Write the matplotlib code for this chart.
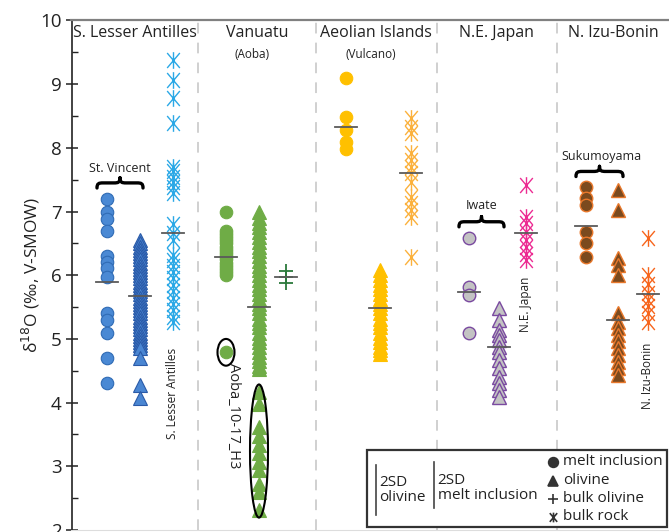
import matplotlib
matplotlib.use('Agg')
from matplotlib import pyplot as plt
from matplotlib.path import Path
from matplotlib.patches import Ellipse, PathPatch, Rectangle
from matplotlib.lines import Line2D

plt.rcParams['font.family'] = ['Open Sans', 'DejaVu Sans']

W, H = 669, 532

regions = ['S. Lesser Antilles', 'Vanuatu', 'Aeolian Islands', 'N.E. Japan', 'N. Izu-Bonin']
region_x = [135, 257, 376, 496, 613]
dividers = [198, 316, 437, 557]

# columns: melt inclusion, olivine, bulk
lesser_x = [107, 140, 173]
lesser_mi = [7.19, 7.0, 6.89, 6.7, 6.3, 6.21, 6.11, 5.98, 5.4, 5.3, 5.1, 4.7, 4.31]
lesser_ol = [6.55, 6.5, 6.45, 6.4, 6.35, 6.3, 6.25, 6.2, 6.15, 6.1, 6.05, 6.0, 5.95, 5.9,
             5.85, 5.8, 5.75, 5.7, 5.65, 5.6, 5.55, 5.5, 5.45, 5.4, 5.35, 5.3, 5.25, 5.2,
             5.15, 5.1, 5.05, 5.0, 4.95, 4.9, 4.85, 4.7, 4.28, 4.07]
lesser_br = [9.38, 9.07, 8.79, 8.39, 7.7, 7.63, 7.55, 7.47, 7.39, 7.29, 6.81, 6.66, 6.55,
             6.32, 6.24, 6.15, 6.05, 5.95, 5.85, 5.75, 5.65, 5.55, 5.45, 5.35, 5.27]
lesser_mean = [5.9, 5.67, 6.67]

vanuatu_x = [226, 259, 286]
vanuatu_mi = [7.0, 6.7, 6.65, 6.6, 6.55, 6.5, 6.45, 6.4, 6.35, 6.3, 6.25, 6.2, 6.15, 6.1,
              6.05, 6.0, 4.8]
vanuatu_ol = [7.0, 6.9, 6.82, 6.75, 6.68, 6.6, 6.52, 6.45, 6.38, 6.3, 6.22, 6.15, 6.08,
              6.0, 5.92, 5.85, 5.78, 5.7, 5.62, 5.55, 5.48, 5.4, 5.32, 5.25, 5.18, 5.1,
              5.02, 4.95, 4.88, 4.8, 4.72, 4.65, 4.58, 4.53]
vanuatu_h3 = [4.17, 3.98, 3.62, 3.47, 3.34, 3.21, 3.07, 2.94, 2.73, 2.6, 2.31]
vanuatu_bo = [6.07, 5.98, 5.88]
vanuatu_mean = [6.28, 5.5, 5.97]

aeolian_x = [346, 380, 411]
aeolian_mi = [9.09, 8.49, 8.28, 8.1, 7.99]
aeolian_ol = [6.08, 6.0, 5.92, 5.85, 5.78, 5.7, 5.62, 5.55, 5.48, 5.4, 5.32, 5.25, 5.18,
              5.1, 5.02, 4.95, 4.88, 4.82, 4.76]
aeolian_br = [8.47, 8.33, 8.23, 7.92, 7.81, 7.7, 7.6, 7.47, 7.23, 7.13, 7.02, 6.92, 6.29]
aeolian_mean = [8.33, 5.48, 7.6]

japan_x = [469, 499, 526]
japan_mi = [6.59, 5.81, 5.69, 5.1]
japan_ol = [5.48, 5.3, 5.14, 5.06, 4.99, 4.88, 4.8, 4.67, 4.54, 4.41, 4.31, 4.2, 4.09]
japan_br = [7.42, 6.92, 6.82, 6.68, 6.55, 6.45, 6.34, 6.24]
japan_mean = [5.73, 4.88, 6.67]

izu_x = [586, 618, 648]
izu_mi = [7.39, 7.21, 7.1, 6.68, 6.5, 6.29]
izu_ol = [7.34, 7.03, 6.27, 6.16, 6.0, 5.4, 5.27, 5.17, 5.06, 4.96, 4.85, 4.75, 4.64,
          4.54, 4.43]
izu_br = [6.58, 6.0, 5.87, 5.72, 5.61, 5.51, 5.4, 5.27]
izu_mean = [6.77, 5.29, 5.7]

# bulk rock marker: x with a vertical stroke
star = Path([(0, -0.5), (0, 0.5), (-0.38, -0.45), (0.38, 0.45), (-0.38, 0.45), (0.38, -0.45)],
            [Path.MOVETO, Path.LINETO] * 3)


def fxy(px, py):
    return px / W, 1 - py / H


def brace(ax, x0, x1, y, h):
    xm = (x0 + x1) / 2
    q = (x1 - x0) * 0.13
    verts = [(x0, y - h), (x0, y - h * 0.1), (x0 + q * 0.3, y), (x0 + q, y),
             (xm - q, y), (xm - q * 0.3, y), (xm, y + h * 0.1), (xm, y + h),
             (x1, y - h), (x1, y - h * 0.1), (x1 - q * 0.3, y), (x1 - q, y),
             (xm + q, y), (xm + q * 0.3, y), (xm, y + h * 0.1), (xm, y + h)]
    codes = [Path.MOVETO, Path.CURVE4, Path.CURVE4, Path.CURVE4,
             Path.LINETO, Path.CURVE4, Path.CURVE4, Path.CURVE4] * 2
    ax.add_patch(PathPatch(Path(verts, codes), fc='none', ec='black', lw=2.4,
                           capstyle='round', joinstyle='round', zorder=5))


def mean_lines(ax, xs, means):
    for x, m in zip(xs, means):
        ax.plot([x - 11, x + 11], [m, m], color='#5a5a5a', lw=1.3, zorder=6)


fig = plt.figure(figsize=(W / 100, H / 100), dpi=100)
ax = fig.add_axes([71.5 / W, 2 / H, 1 - 71.5 / W, (530 - 20.5) / H])
ax.set_xlim(71.5, W)
ax.set_ylim(2, 10)

for d in dividers:
    ax.axvline(d, color='#c4c4c4', lw=1.1, dashes=(7, 6), zorder=0)

ms_c, ms_t = 9, 9.5

# S. Lesser Antilles
ax.plot([lesser_x[0]] * len(lesser_mi), lesser_mi, 'o', ms=ms_c, mfc='#4a89d4', mec='#2f6bb5', mew=0.8)
ax.plot([lesser_x[1]] * len(lesser_ol), lesser_ol, '^', ms=ms_t, mfc='#4a86d2', mec='#2a5aa8', mew=0.8)
ax.plot([lesser_x[2]] * len(lesser_br), lesser_br, ls='none', marker=star, ms=12, mec='#2aa8e6', mew=1.0)
mean_lines(ax, lesser_x, lesser_mean)

# Vanuatu
ax.plot([vanuatu_x[0]] * len(vanuatu_mi), vanuatu_mi, 'o', ms=ms_c, mfc='#6fac46', mec='#6fac46', mew=0.8)
ax.plot([vanuatu_x[1]] * len(vanuatu_ol), vanuatu_ol, '^', ms=ms_t, mfc='#6fac46', mec='#6fac46', mew=0.8)
ax.plot([vanuatu_x[1]] * len(vanuatu_h3), vanuatu_h3, '^', ms=ms_t, mfc='#6fac46', mec='#6fac46', mew=0.8)
ax.plot([vanuatu_x[2]] * len(vanuatu_bo), vanuatu_bo, '+', ms=10, mec='#2b7a3b', mew=1.3)
mean_lines(ax, vanuatu_x, vanuatu_mean)
ax.add_patch(Ellipse((vanuatu_x[0], 4.79), 17, 0.42, fc='none', ec='black', lw=1.5, zorder=5))
ax.add_patch(Ellipse((vanuatu_x[1], 3.24), 18, 2.09, fc='none', ec='black', lw=1.5, zorder=5))
ax.text(234, 4.62, 'Aoba_10-17_H3', rotation=270, ha='center', va='top', fontsize=10.5, color='#222')

# Aeolian Islands
ax.plot([aeolian_x[0]] * len(aeolian_mi), aeolian_mi, 'o', ms=ms_c, mfc='#ffc000', mec='#ffc000', mew=0.8)
ax.plot([aeolian_x[1]] * len(aeolian_ol), aeolian_ol, '^', ms=ms_t, mfc='#ffc000', mec='#ffc000', mew=0.8)
ax.plot([aeolian_x[2]] * len(aeolian_br), aeolian_br, ls='none', marker=star, ms=12, mec='#fbb13c', mew=1.0)
mean_lines(ax, aeolian_x, aeolian_mean)

# N.E. Japan
ax.plot([japan_x[0]] * len(japan_mi), japan_mi, 'o', ms=ms_c, mfc='#c3c3c3', mec='#7a4aa0', mew=1.0)
ax.plot([japan_x[1]] * len(japan_ol), japan_ol, '^', ms=ms_t, mfc='#c3c3c3', mec='#7a4aa0', mew=1.0)
ax.plot([japan_x[2]] * len(japan_br), japan_br, ls='none', marker=star, ms=12, mec='#ec2b92', mew=1.0)
mean_lines(ax, japan_x, japan_mean)

# N. Izu-Bonin
ax.plot([izu_x[0]] * len(izu_mi), izu_mi, 'o', ms=ms_c, mfc='#7b4a1e', mec='#e9782b', mew=1.0)
ax.plot([izu_x[1]] * len(izu_ol), izu_ol, '^', ms=ms_t, mfc='#7b4a1e', mec='#e9782b', mew=1.0)
ax.plot([izu_x[2]] * len(izu_br), izu_br, ls='none', marker=star, ms=12, mec='#f7651c', mew=1.0)
mean_lines(ax, izu_x, izu_mean)

# region titles and notes
for name, x in zip(regions, region_x):
    ax.text(x, 9.8, name, ha='center', va='center', fontsize=11.5, color='#222')
ax.text(252, 9.46, '(Aoba)', ha='center', va='center', fontsize=8.5, color='#222')
ax.text(371, 9.46, '(Vulcano)', ha='center', va='center', fontsize=8.5, color='#222')
ax.text(173, 4.15, 'S. Lesser Antilles', rotation=90, ha='center', va='center', fontsize=8.5, color='#222')
ax.text(526, 5.55, 'N.E. Japan', rotation=90, ha='center', va='center', fontsize=8.5, color='#222')
ax.text(648, 4.42, 'N. Izu-Bonin', rotation=90, ha='center', va='center', fontsize=8.5, color='#222')

brace(ax, 97, 143, 7.45, 0.08)
ax.text(120, 7.68, 'St. Vincent', ha='center', va='center', fontsize=9, color='#222')
brace(ax, 459, 504, 6.84, 0.08)
ax.text(482, 7.1, 'Iwate', ha='center', va='center', fontsize=9, color='#222')
brace(ax, 576, 623, 7.63, 0.08)
ax.text(601, 7.86, 'Sukumoyama', ha='center', va='center', fontsize=9, color='#222')

# axes styling
ax.spines['right'].set_visible(False)
ax.spines['top'].set_color('#808080')
ax.spines['top'].set_linewidth(1.6)
ax.spines['bottom'].set_color('#dddddd')
ax.spines['left'].set_color('#222')
ax.spines['left'].set_linewidth(1.2)
ax.set_xticks([])
ax.set_yticks(range(2, 11))
ax.set_yticks([2.5 + i for i in range(8)], minor=True)
ax.tick_params(axis='y', which='major', direction='inout', length=8, width=1.1, labelsize=13.5,
               colors='#222', pad=3)
ax.tick_params(axis='y', which='minor', direction='in', length=4, width=1.0, colors='#222')
ax.set_ylabel(r'δ$^{18}$O (‰, V-SMOW)', fontsize=12.5, color='#222', labelpad=-1)

# legend box
x0, y0 = fxy(367, 527)
x1, y1 = fxy(667, 450)
fig.add_artist(Rectangle((x0, y0), x1 - x0, y1 - y0, transform=fig.transFigure,
                         fc='white', ec='#333', lw=1.6, zorder=10))
for lx, ly0, ly1 in [(376, 465, 515), (434.5, 462, 508)]:
    a, b = fxy(lx, ly0)
    c, d = fxy(lx, ly1)
    fig.add_artist(Line2D([a, c], [b, d], transform=fig.transFigure, color='#444', lw=1.2, zorder=11))
tx, ty = fxy(379, 490)
fig.text(tx, ty, '2SD\nolivine', ha='left', va='center', fontsize=11, linespacing=0.95, color='#222', zorder=11)
tx, ty = fxy(437.5, 488)
fig.text(tx, ty, '2SD\nmelt inclusion', ha='left', va='center', fontsize=11, linespacing=0.95, color='#222', zorder=11)
leg_labels = ['melt inclusion', 'olivine', 'bulk olivine', 'bulk rock']
leg_markers = ['o', '^', '+', star]
leg_y = [461.5, 480.5, 498.5, 516.5]
for lab, mk, py in zip(leg_labels, leg_markers, leg_y):
    mx, my = fxy(553, py)
    fig.add_artist(Line2D([mx], [my], transform=fig.transFigure, marker=mk, ms=7,
                          color='#333', mew=1.2, ls='none', zorder=11))
    tx, ty = fxy(563, py)
    fig.text(tx, ty, lab, ha='left', va='center', fontsize=11, color='#222', zorder=11)

fig.savefig('out.png', dpi=100)
